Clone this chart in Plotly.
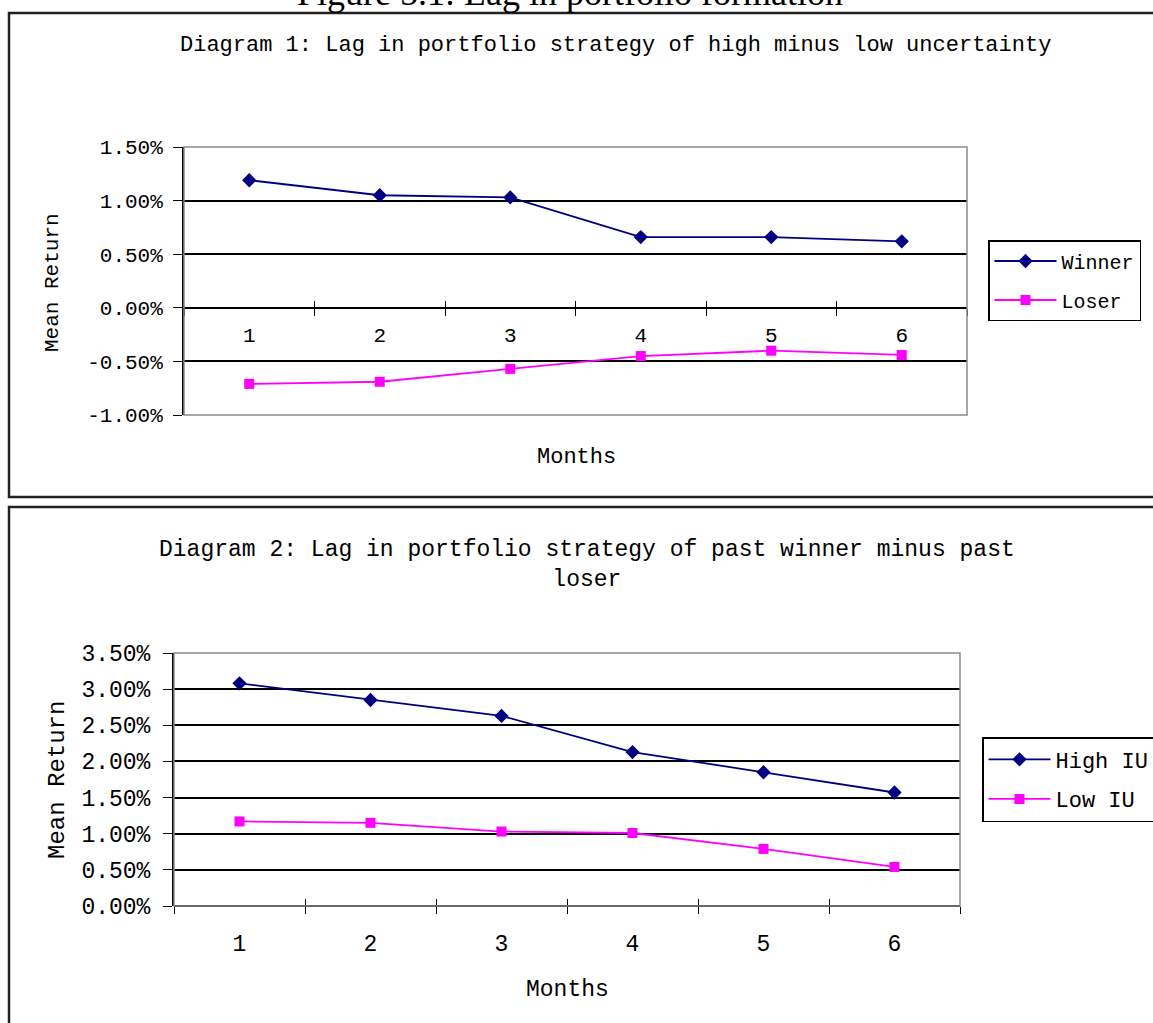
import plotly.graph_objects as go

# ---------------- data ----------------
months = [1, 2, 3, 4, 5, 6]
month_labels = ["1", "2", "3", "4", "5", "6"]

# Diagram 1 (mean return, %)
winner = [1.19, 1.05, 1.03, 0.66, 0.66, 0.62]
loser = [-0.71, -0.69, -0.57, -0.45, -0.40, -0.44]
y1_ticks = [-1.0, -0.5, 0.0, 0.5, 1.0, 1.5]
y1_labels = ["-1.00%", "-0.50%", "0.00%", "0.50%", "1.00%", "1.50%"]

# Diagram 2 (mean return, %)
high_iu = [3.08, 2.85, 2.63, 2.13, 1.85, 1.57]
low_iu = [1.17, 1.15, 1.03, 1.01, 0.79, 0.54]
y2_ticks = [0.0, 0.5, 1.0, 1.5, 2.0, 2.5, 3.0, 3.5]
y2_labels = ["0.00%", "0.50%", "1.00%", "1.50%", "2.00%", "2.50%", "3.00%", "3.50%"]

caption = "Figure 5.1: Lag in portfolio formation"
title1 = "Diagram 1: Lag in portfolio strategy of high minus low uncertainty"
title2 = "Diagram 2: Lag in portfolio strategy of past winner minus past<br>loser"

# ---------------- layout helpers ----------------
W, H = 1153, 1023
def fx(px):
    return px / W
def fy(py):
    return 1 - py / H

MONO = "Liberation Mono"
NAVY = "#000080"
MAG = "#FF00FF"

boundaries = [m - 0.5 for m in months] + [months[-1] + 0.5]
xrange = [boundaries[0], boundaries[-1]]

p1x = [fx(184), fx(967)]
p1y = [fy(415), fy(147)]
p2x = [fx(174), fx(960)]
p2y = [fy(906), fy(653)]

def zero_pos(dom, rng):
    return dom[0] + (0 - rng[0]) / (rng[1] - rng[0]) * (dom[1] - dom[0])

r1 = [y1_ticks[0], y1_ticks[-1]]
r2 = [y2_ticks[0], y2_ticks[-1]]
z1 = zero_pos(p1y, r1)
z2 = zero_pos(p2y, r2)

fig = go.Figure()

# panel 1 traces
fig.add_trace(go.Scatter(x=months, y=winner, name="Winner", mode="lines+markers",
                         line=dict(color=NAVY, width=1.8),
                         marker=dict(symbol="diamond", size=11, color=NAVY),
                         xaxis="x", yaxis="y", legend="legend", legendgroup="a"))
fig.add_trace(go.Scatter(x=months, y=loser, name="Loser", mode="lines+markers",
                         line=dict(color=MAG, width=1.8),
                         marker=dict(symbol="square", size=10, color=MAG),
                         xaxis="x", yaxis="y", legend="legend", legendgroup="b"))
# panel 2 traces
fig.add_trace(go.Scatter(x=months, y=high_iu, name="High IU", mode="lines+markers",
                         line=dict(color=NAVY, width=1.8),
                         marker=dict(symbol="diamond", size=11, color=NAVY),
                         xaxis="x2", yaxis="y2", legend="legend2", legendgroup="c"))
fig.add_trace(go.Scatter(x=months, y=low_iu, name="Low IU", mode="lines+markers",
                         line=dict(color=MAG, width=1.8),
                         marker=dict(symbol="square", size=10, color=MAG),
                         xaxis="x2", yaxis="y2", legend="legend2", legendgroup="d"))
# invisible traces to create the overlay (inside-tick) subplots
fig.add_trace(go.Scatter(x=months, y=winner, mode="none", showlegend=False,
                         hoverinfo="skip", xaxis="x3", yaxis="y3"))
fig.add_trace(go.Scatter(x=months, y=high_iu, mode="none", showlegend=False,
                         hoverinfo="skip", xaxis="x4", yaxis="y4"))

def main_x(dom, pos, ticklen, fsize):
    return dict(domain=dom, range=xrange, anchor="free", position=pos,
                tickmode="array", tickvals=months, ticktext=month_labels,
                ticks="outside", ticklen=ticklen, tickcolor="rgba(0,0,0,0)",
                tickfont=dict(family=MONO, size=fsize, color="black"),
                minor=dict(tickmode="array", tickvals=boundaries, ticks="outside",
                           ticklen=7, tickcolor="black", tickwidth=1, showgrid=False),
                showline=True, linecolor="black", linewidth=2, automargin=False,
                showgrid=False, zeroline=False, fixedrange=True)

def over_x(dom, pos, ov):
    return dict(domain=dom, range=xrange, anchor="free", position=pos, overlaying=ov,
                tickmode="array", tickvals=boundaries, ticks="inside", ticklen=7,
                tickcolor="black", tickwidth=1, showticklabels=False, automargin=False,
                showline=False, showgrid=False, zeroline=False, fixedrange=True)

def main_y(dom, rng, tv, tt, anchor, fsize, standoff):
    return dict(domain=dom, range=rng, anchor=anchor, tickmode="array",
                tickvals=tv, ticktext=tt, ticks="outside", ticklen=9,
                tickcolor="black", tickwidth=1, ticklabelstandoff=standoff,
                tickfont=dict(family=MONO, size=fsize, color="black"),
                showgrid=True, gridcolor="black", gridwidth=1.5,
                showline=True, linecolor="black", linewidth=2, automargin=False,
                zeroline=False, fixedrange=True)

def over_y(dom, rng, tv, anchor, ov):
    return dict(domain=dom, range=rng, anchor=anchor, overlaying=ov, tickmode="array",
                tickvals=tv, ticks="inside", ticklen=9, tickcolor="black", tickwidth=1,
                showticklabels=False, showline=False, showgrid=False, zeroline=False,
                automargin=False, fixedrange=True)

fig.update_layout(
    xaxis=main_x(p1x, z1, 8, 21),
    yaxis=main_y(p1y, r1, y1_ticks, y1_labels, "x", 21, 6),
    xaxis3=over_x(p1x, z1, "x"),
    yaxis3=over_y(p1y, r1, y1_ticks, "x3", "y"),
    xaxis2=main_x(p2x, z2, 16, 23),
    yaxis2=main_y(p2y, r2, y2_ticks, y2_labels, "x2", 23, 8),
    xaxis4=over_x(p2x, z2, "x2"),
    yaxis4=over_y(p2y, r2, y2_ticks, "x4", "y2"),
)

def frame(xr, yr):
    return dict(type="rect", xref=f"{xr} domain", yref=f"{yr} domain",
                x0=0, x1=1, y0=0, y1=1, line=dict(color="#8c8c8c", width=1.5),
                fillcolor="rgba(0,0,0,0)", layer="above")

shapes = [
    frame("x", "y"),
    frame("x2", "y2"),
    dict(type="rect", xref="paper", yref="paper", x0=fx(9), x1=1.05,
         y0=fy(497), y1=fy(13), line=dict(color="#222222", width=2.5)),
    dict(type="rect", xref="paper", yref="paper", x0=fx(9), x1=1.05,
         y0=-0.05, y1=fy(507), line=dict(color="#222222", width=2.5)),
]

annotations = [
    dict(text=caption, x=fx(570), y=fy(15), xref="paper", yref="paper",
         xanchor="center", yanchor="bottom", showarrow=False,
         font=dict(family="Liberation Serif", size=36, color="black")),
    dict(text=title1, x=fx(615), y=fy(46), xref="paper", yref="paper",
         xanchor="center", yanchor="middle", showarrow=False,
         font=dict(family=MONO, size=22, color="black")),
    dict(text="Months", x=fx(576), y=fy(457), xref="paper", yref="paper",
         xanchor="center", yanchor="middle", showarrow=False,
         font=dict(family=MONO, size=22, color="black")),
    dict(text="Mean Return", x=fx(52), y=fy(283), xref="paper", yref="paper",
         xanchor="center", yanchor="middle", showarrow=False, textangle=-90,
         font=dict(family=MONO, size=21, color="black")),
    dict(text=title2, x=fx(587), y=fy(565), xref="paper", yref="paper",
         xanchor="center", yanchor="middle", showarrow=False,
         font=dict(family=MONO, size=23, color="black")),
    dict(text="Months", x=fx(567), y=fy(990), xref="paper", yref="paper",
         xanchor="center", yanchor="middle", showarrow=False,
         font=dict(family=MONO, size=23, color="black")),
    dict(text="Mean Return", x=fx(57), y=fy(780), xref="paper", yref="paper",
         xanchor="center", yanchor="middle", showarrow=False, textangle=-90,
         font=dict(family=MONO, size=24, color="black")),
]

fig.update_layout(
    width=W, height=H,
    margin=dict(l=0, r=0, t=0, b=0, autoexpand=False),
    paper_bgcolor="white", plot_bgcolor="white",
    shapes=shapes, annotations=annotations,
    showlegend=True,
    legend=dict(x=fx(988), y=fy(240), xanchor="left", yanchor="top",
                bordercolor="black", borderwidth=1.5, bgcolor="white",
                font=dict(family=MONO, size=20, color="black"),
                itemwidth=62, tracegroupgap=10),
    legend2=dict(x=fx(982), y=fy(737), xanchor="left", yanchor="top",
                 bordercolor="black", borderwidth=1.5, bgcolor="white",
                 font=dict(family=MONO, size=22, color="black"),
                 itemwidth=62, tracegroupgap=8),
)

fig.write_html("out.html", config={"displayModeBar": False},
               post_script="document.body.style.margin='0';document.body.style.overflow='hidden';")
